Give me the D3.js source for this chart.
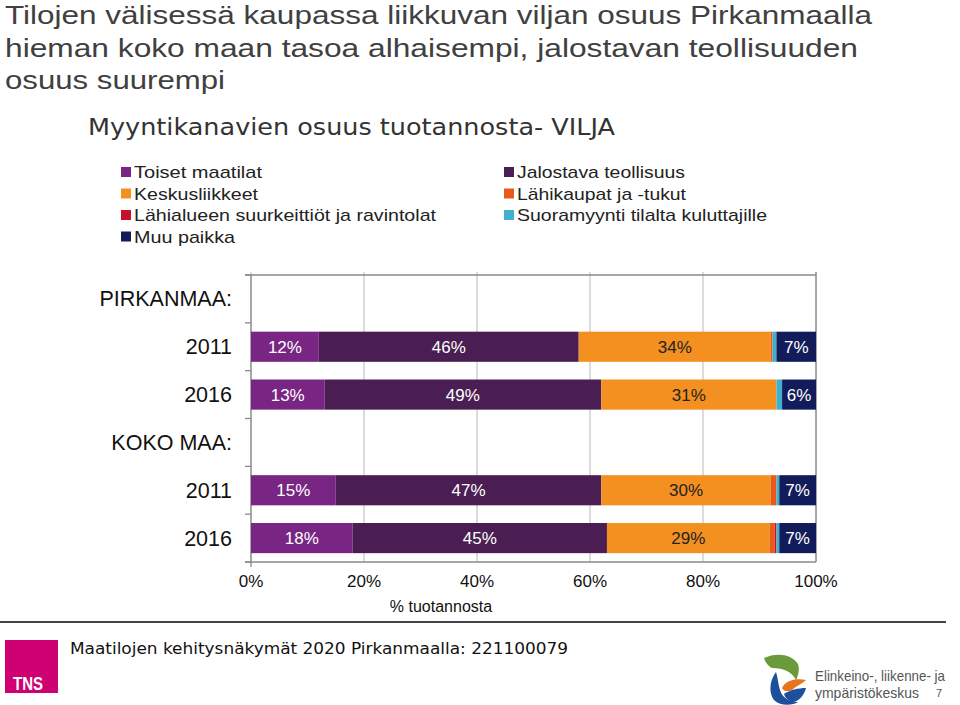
<!DOCTYPE html>
<html><head><meta charset="utf-8">
<script src="https://cdn.jsdelivr.net/npm/d3@7"></script>
<style>body{margin:0;background:#fff;} svg{display:block;}</style>
</head><body>
<script>
// ---- data ----
const rowLabels = ["PIRKANMAA:", "2011", "2016", "KOKO MAA:", "2011", "2016"];
const seriesNames = ["Toiset maatilat", "Jalostava teollisuus", "Keskusliikkeet", "Lähikaupat ja -tukut",
  "Lähialueen suurkeittiöt ja ravintolat", "Suoramyynti tilalta kuluttajille", "Muu paikka"];
const toisetMaatilat = [null, 12, 13, null, 15, 18];
const jalostavaTeollisuus = [null, 46, 49, null, 47, 45];
const keskusliikkeet = [null, 34, 31, null, 30, 28.8];
const lahikaupat = [null, 0.3, 0, null, 1, 0.9];
const lahialueen = [null, 0, 0, null, 0, 0.3];
const suoramyynti = [null, 0.7, 1, null, 0.5, 0.5];
const muuPaikka = [null, 7, 6, null, 6.5, 6.5];
const xTicks = [0, 20, 40, 60, 80, 100];
const colors = ["#782583", "#4a1e52", "#f39020", "#e75a1a", "#c8102e", "#3fb1cc", "#131c5a"];
const textColors = ["#fff", "#fff", "#222", "#fff", "#fff", "#fff", "#fff"];

const seriesValues = [toisetMaatilat, jalostavaTeollisuus, keskusliikkeet, lahikaupat, lahialueen, suoramyynti, muuPaikka];

const W = 960, H = 705;
const svg = d3.select("body").append("svg").attr("width", W).attr("height", H);

function fitText(sel, w) { sel.attr("textLength", w).attr("lengthAdjust", "spacingAndGlyphs"); return sel; }

// Title
const titleLines = ["Tilojen välisessä kaupassa liikkuvan viljan osuus Pirkanmaalla",
  "hieman koko maan tasoa alhaisempi, jalostavan teollisuuden", "osuus suurempi"];
const titleW = [867, 853, 220];
titleLines.forEach((t, i) => {
  fitText(svg.append("text").attr("x", 5).attr("y", 24 + i * 32.5)
    .attr("font-family", "'Liberation Sans',Arial,sans-serif")
    .attr("font-size", 26).attr("fill", "#404040").text(t), titleW[i]);
});
// subtitle
fitText(svg.append("text").attr("x", 88).attr("y", 135)
  .attr("font-family", "'DejaVu Sans',Verdana,sans-serif").attr("font-size", 23)
  .attr("fill", "#333").text("Myyntikanavien osuus tuotannosta- VILJA"), 527);

// Legend
const legendPos = [[121, 0], [504, 0], [121, 1], [504, 1], [121, 2], [504, 2], [121, 3]];
const legendW = [128, 168, 124, 169, 302, 250, 101];
seriesNames.forEach((n, i) => {
  const [lx, r] = legendPos[i];
  const ly = 172 + r * 21.5;
  svg.append("rect").attr("x", lx).attr("y", ly - 5).attr("width", 10).attr("height", 10).attr("fill", colors[i]);
  fitText(svg.append("text").attr("x", lx + 13).attr("y", ly + 6)
    .attr("font-family", "'Liberation Sans',Arial,sans-serif").attr("font-size", 17)
    .attr("fill", "#222").text(n), legendW[i]);
});

// Plot
const x0 = 251, x1 = 816, yTop = 275, yBot = 562;
const x = d3.scaleLinear().domain([0, 100]).range([x0, x1]);
const y = d3.scaleBand().domain(d3.range(rowLabels.length)).range([yTop, yBot]).paddingInner(0.37).paddingOuter(0.185);
const step = y.step();

// gridlines
svg.append("g").selectAll("line").data(xTicks).join("line")
  .attr("x1", d => x(d)).attr("x2", d => x(d)).attr("y1", yTop - 3).attr("y2", yBot)
  .attr("stroke", "#b8b8b8").attr("stroke-width", 1);
// frame lines
svg.append("line").attr("x1", x0 - 6).attr("x2", x1).attr("y1", yTop).attr("y2", yTop).attr("stroke", "#8a8a8a").attr("stroke-width", 1.3);
svg.append("line").attr("x1", x0 - 6).attr("x2", x1).attr("y1", yBot).attr("y2", yBot).attr("stroke", "#8a8a8a").attr("stroke-width", 1.3);
svg.append("line").attr("x1", x1).attr("x2", x1).attr("y1", yTop - 3).attr("y2", yBot).attr("stroke", "#8a8a8a").attr("stroke-width", 1.3);
svg.append("line").attr("x1", x0).attr("x2", x0).attr("y1", yTop).attr("y2", yBot + 5).attr("stroke", "#8a8a8a").attr("stroke-width", 1.3);
// left ticks at slot boundaries
svg.append("g").selectAll("line").data(d3.range(rowLabels.length + 1)).join("line")
  .attr("x1", x0 - 6).attr("x2", x0).attr("y1", d => yTop + d * step).attr("y2", d => yTop + d * step)
  .attr("stroke", "#8a8a8a").attr("stroke-width", 1.3);

// stacked bars
rowLabels.forEach((lab, ri) => {
  let acc = 0;
  seriesValues.forEach((arr, si) => {
    const v = arr[ri];
    if (v == null) return;
    const xs = x(acc), xe = x(acc + v);
    acc += v;
    if (v <= 0) return;
    svg.append("rect").attr("x", xs).attr("y", y(ri)).attr("width", xe - xs).attr("height", y.bandwidth())
      .attr("fill", colors[si]);
    if (v >= 3) {
      svg.append("text").attr("x", (xs + xe) / 2).attr("y", y(ri) + y.bandwidth() / 2 + 6)
        .attr("text-anchor", "middle").attr("font-family", "'Liberation Sans',Arial,sans-serif")
        .attr("font-size", 17).attr("fill", textColors[si]).text(Math.round(v) + "%");
    }
  });
});

// row labels
rowLabels.forEach((lab, ri) => {
  svg.append("text").attr("x", 232).attr("y", yTop + (ri + 0.5) * step + 7.5)
    .attr("text-anchor", "end").attr("font-family", "'Liberation Sans',Arial,sans-serif")
    .attr("font-size", 21.5).attr("fill", "#111").text(lab);
});

// x tick labels
svg.append("g").selectAll("text").data(xTicks).join("text")
  .attr("x", d => x(d)).attr("y", 587).attr("text-anchor", "middle")
  .attr("font-family", "'Liberation Sans',Arial,sans-serif").attr("font-size", 17).attr("fill", "#111")
  .text(d => d + "%");
svg.append("text").attr("x", 441).attr("y", 612).attr("text-anchor", "middle")
  .attr("font-family", "'Liberation Sans',Arial,sans-serif").attr("font-size", 16).attr("fill", "#111")
  .text("% tuotannosta");

// footer
svg.append("line").attr("x1", 0).attr("x2", 946).attr("y1", 622).attr("y2", 622).attr("stroke", "#444").attr("stroke-width", 2);
svg.append("rect").attr("x", 5).attr("y", 640).attr("width", 53).attr("height", 53).attr("fill", "#cf0072");
fitText(svg.append("text").attr("x", 13).attr("y", 690).attr("font-family", "'Liberation Sans',sans-serif")
  .attr("font-weight", "bold").attr("font-size", 19).attr("fill", "#fff").text("TNS"), 30);
fitText(svg.append("text").attr("x", 70).attr("y", 654).attr("font-family", "'DejaVu Sans',Verdana,sans-serif")
  .attr("font-size", 16).attr("fill", "#111").text("Maatilojen kehitysnäkymät 2020 Pirkanmaalla: 221100079"), 498);

// ELY logo
const lg = svg.append("g").attr("transform", "translate(762,650)");
lg.append("path").attr("d", "M2,8 C14,2 30,4 36,14 C38,20 36,26 34,30 C30,22 22,18 10,18 C6,16 3,12 2,8 Z").attr("fill", "#6a9a3a");
lg.append("path").attr("d", "M14,22 C8,30 6,42 12,50 C18,56 30,56 36,52 C28,52 20,48 18,40 C16,34 16,28 14,22 Z").attr("fill", "#1c4f9c");
lg.append("path").attr("d", "M20,38 C24,30 34,28 44,30 C40,34 34,36 30,40 C26,42 22,42 20,38 Z").attr("fill", "#e8731e");
lg.append("path").attr("d", "M22,44 C28,40 36,38 44,38 C42,46 36,52 30,52 C26,50 23,48 22,44 Z").attr("fill", "#1c4f9c");
fitText(svg.append("text").attr("x", 815).attr("y", 681).attr("font-family", "'Liberation Sans',sans-serif")
  .attr("font-size", 15).attr("fill", "#555").text("Elinkeino-, liikenne- ja"), 130);
fitText(svg.append("text").attr("x", 815).attr("y", 698).attr("font-family", "'Liberation Sans',sans-serif")
  .attr("font-size", 15).attr("fill", "#555").text("ympäristökeskus"), 104);
svg.append("text").attr("x", 936).attr("y", 697).attr("font-family", "'Liberation Sans',sans-serif")
  .attr("font-size", 11).attr("fill", "#555").text("7");
</script>
</body></html>
